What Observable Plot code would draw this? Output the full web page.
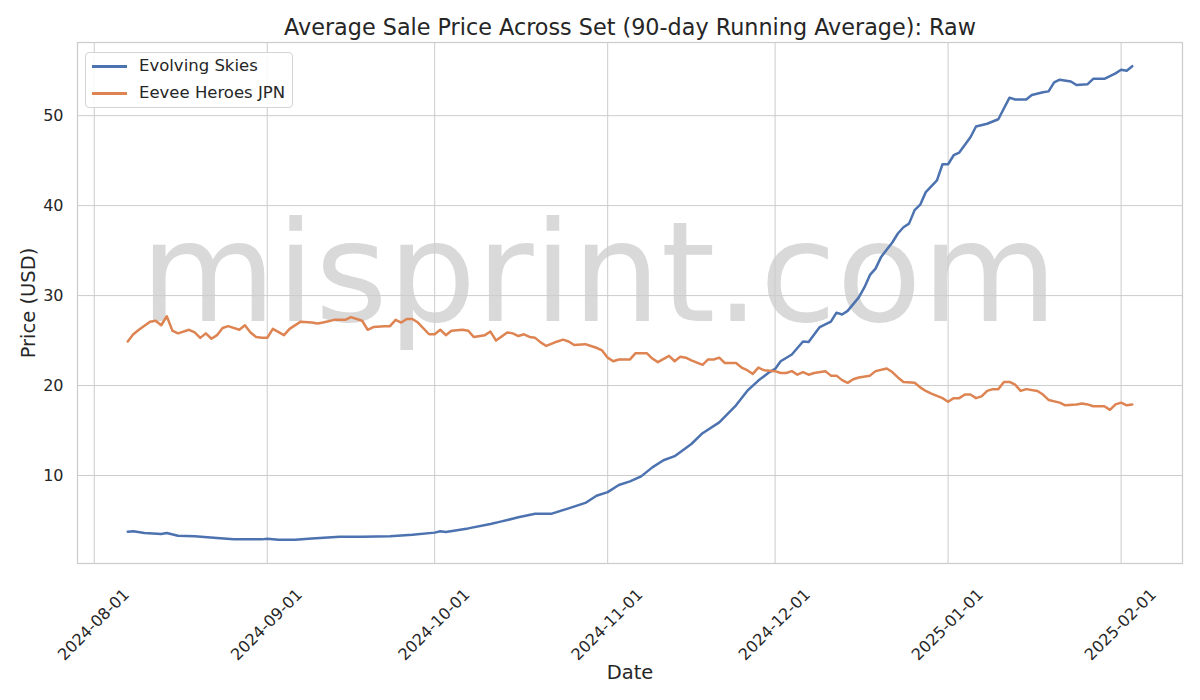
<!DOCTYPE html>
<html>
<head>
<meta charset="utf-8">
<script src="https://cdn.jsdelivr.net/npm/d3@7"></script>
<script src="https://cdn.jsdelivr.net/npm/@observablehq/plot@0.6"></script>
<style>
  body { margin: 0; background: #fff; font-family: "DejaVu Sans", sans-serif; }
  #wrap { position: relative; width: 1200px; height: 700px; overflow: hidden; }
  #legend { position: absolute; left: 85px; top: 52px; width: 208px; height: 56px;
    border: 1px solid #d4d4d4; border-radius: 4px; background: rgba(255,255,255,0.85);
    box-sizing: border-box; }
  .row { position: absolute; left: 0; height: 20px; width: 100%; }
  .sw { position: absolute; left: 6px; top: 9px; width: 35px; height: 2.6px; }
  .lb { position: absolute; left: 53px; top: 0; font-size: 16.5px; line-height: 20px; color: #262626; white-space: nowrap; }
</style>
</head>
<body>
<div id="wrap"></div>
<script>
// ---- Data ----
const titleText = "Average Sale Price Across Set (90-day Running Average): Raw";
const xLabel = "Date";
const yLabel = "Price (USD)";
const watermark = "misprint.com";
const seriesNames = ["Evolving Skies", "Eevee Heroes JPN"];
const seriesColors = ["#4c72b0", "#dd8452"];

const evolvingDates = [
  "2024-08-07","2024-08-08","2024-08-10","2024-08-13","2024-08-14","2024-08-16","2024-08-19","2024-08-23",
  "2024-08-26","2024-08-31","2024-09-01","2024-09-03","2024-09-06","2024-09-09","2024-09-14","2024-09-18",
  "2024-09-23","2024-09-27","2024-10-01","2024-10-02","2024-10-03","2024-10-07","2024-10-11","2024-10-13",
  "2024-10-16","2024-10-19","2024-10-22","2024-10-25","2024-10-28","2024-10-30","2024-11-01","2024-11-03",
  "2024-11-05","2024-11-07","2024-11-09","2024-11-11","2024-11-13","2024-11-16","2024-11-18","2024-11-21",
  "2024-11-24","2024-11-26","2024-11-28","2024-11-30","2024-12-01","2024-12-02","2024-12-04","2024-12-06",
  "2024-12-07","2024-12-09","2024-12-11","2024-12-12","2024-12-13","2024-12-14","2024-12-16","2024-12-17",
  "2024-12-18","2024-12-19","2024-12-20","2024-12-22","2024-12-23","2024-12-24","2024-12-25","2024-12-26",
  "2024-12-27","2024-12-28","2024-12-30","2024-12-31","2025-01-01","2025-01-02","2025-01-03","2025-01-05",
  "2025-01-06","2025-01-08","2025-01-10","2025-01-12","2025-01-13","2025-01-15","2025-01-16","2025-01-18",
  "2025-01-19","2025-01-20","2025-01-21","2025-01-23","2025-01-24","2025-01-26","2025-01-27","2025-01-29",
  "2025-01-31","2025-02-01","2025-02-02","2025-02-03"
];
const evolvingValues = [
  3.75,3.8,3.6,3.5,3.6,3.3,3.25,3.05,
  2.9,2.9,2.98,2.87,2.85,3.0,3.2,3.2,
  3.25,3.42,3.65,3.8,3.72,4.12,4.6,4.9,
  5.35,5.74,5.76,6.35,6.95,7.75,8.15,8.95,
  9.35,9.9,10.9,11.7,12.15,13.5,14.7,15.9,
  17.8,19.4,20.55,21.5,21.85,22.7,23.45,24.9,
  24.85,26.5,27.1,28.1,27.9,28.3,29.8,30.9,
  32.3,33.0,34.3,35.9,36.9,37.6,38.0,39.5,
  40.1,41.5,42.8,44.6,44.6,45.6,45.9,47.6,
  48.8,49.1,49.6,52.0,51.8,51.8,52.3,52.6,
  52.7,53.7,54.0,53.8,53.4,53.5,54.1,54.1,
  54.7,55.1,55.0,55.5
];

const eeveeDates = [
  "2024-08-07","2024-08-08","2024-08-09","2024-08-11","2024-08-12","2024-08-13","2024-08-14","2024-08-15",
  "2024-08-16","2024-08-18","2024-08-19","2024-08-20","2024-08-21","2024-08-22","2024-08-23","2024-08-24",
  "2024-08-25","2024-08-27","2024-08-28","2024-08-29","2024-08-30","2024-08-31","2024-09-01","2024-09-02",
  "2024-09-04","2024-09-05","2024-09-07","2024-09-09","2024-09-10","2024-09-11","2024-09-13","2024-09-15",
  "2024-09-16","2024-09-18","2024-09-19","2024-09-20","2024-09-22","2024-09-23","2024-09-24","2024-09-25",
  "2024-09-26","2024-09-27","2024-09-28","2024-09-30","2024-10-01","2024-10-02","2024-10-03","2024-10-04",
  "2024-10-06","2024-10-07","2024-10-08","2024-10-10","2024-10-11","2024-10-12","2024-10-14","2024-10-15",
  "2024-10-16","2024-10-17","2024-10-18","2024-10-19","2024-10-20","2024-10-21","2024-10-23","2024-10-24",
  "2024-10-25","2024-10-26","2024-10-28","2024-10-29","2024-10-30","2024-10-31","2024-11-01","2024-11-02",
  "2024-11-03","2024-11-05","2024-11-06","2024-11-08","2024-11-09","2024-11-10","2024-11-12","2024-11-13",
  "2024-11-14","2024-11-15","2024-11-16","2024-11-18","2024-11-19","2024-11-20","2024-11-21","2024-11-22",
  "2024-11-24","2024-11-25","2024-11-26","2024-11-27","2024-11-28","2024-11-29","2024-12-01","2024-12-02",
  "2024-12-03","2024-12-04","2024-12-05","2024-12-06","2024-12-07","2024-12-08","2024-12-10","2024-12-11",
  "2024-12-12","2024-12-13","2024-12-14","2024-12-15","2024-12-16","2024-12-18","2024-12-19","2024-12-21",
  "2024-12-22","2024-12-23","2024-12-24","2024-12-26","2024-12-27","2024-12-28","2024-12-29","2024-12-31",
  "2025-01-01","2025-01-02","2025-01-03","2025-01-04","2025-01-05","2025-01-06","2025-01-07","2025-01-08",
  "2025-01-09","2025-01-10","2025-01-11","2025-01-12","2025-01-13","2025-01-14","2025-01-15","2025-01-17",
  "2025-01-18","2025-01-19","2025-01-21","2025-01-22","2025-01-24","2025-01-25","2025-01-26","2025-01-27",
  "2025-01-29","2025-01-30","2025-01-31","2025-02-01","2025-02-02","2025-02-03"
];
const eeveeValues = [
  24.9,25.7,26.2,27.1,27.2,26.7,27.7,26.1,
  25.8,26.2,25.9,25.3,25.8,25.2,25.6,26.4,
  26.6,26.2,26.7,25.9,25.4,25.3,25.3,26.3,
  25.6,26.3,27.1,27.0,26.9,27.0,27.3,27.3,
  27.6,27.2,26.2,26.5,26.6,26.6,27.3,27.0,
  27.4,27.4,27.0,25.7,25.7,26.2,25.6,26.1,
  26.2,26.1,25.4,25.6,26.0,25.0,25.9,25.8,
  25.5,25.7,25.4,25.3,24.8,24.4,24.9,25.1,
  24.9,24.5,24.6,24.4,24.2,23.9,23.1,22.7,
  22.9,22.9,23.6,23.6,23.0,22.6,23.3,22.7,
  23.2,23.1,22.8,22.3,22.9,22.9,23.1,22.5,
  22.5,22.0,21.7,21.3,22.0,21.7,21.6,21.4,
  21.4,21.6,21.2,21.5,21.2,21.4,21.6,21.1,
  21.1,20.6,20.3,20.7,20.9,21.1,21.6,21.9,
  21.5,20.9,20.4,20.3,19.8,19.4,19.1,18.6,
  18.2,18.6,18.6,19.0,19.0,18.6,18.8,19.4,
  19.6,19.6,20.4,20.4,20.1,19.4,19.6,19.4,
  19.0,18.4,18.1,17.8,17.9,18.0,17.9,17.7,
  17.7,17.3,17.9,18.1,17.8,17.9
];

const xTickLabels = ["2024-08-01","2024-09-01","2024-10-01","2024-11-01","2024-12-01","2025-01-01","2025-02-01"];
const yTickValues = [10, 20, 30, 40, 50];

// ---- Build table ----
const parse = d3.utcParse("%Y-%m-%d");
const fmt = d3.utcFormat("%Y-%m-%d");
const seriesDates = [evolvingDates, eeveeDates];
const seriesValues = [evolvingValues, eeveeValues];
const rows = [];
seriesNames.forEach((name, i) => {
  seriesDates[i].forEach((d, j) => rows.push({date: parse(d), price: seriesValues[i][j], series: name}));
});
const xTicks = xTickLabels.map(parse);

// matplotlib-style 5% margins
const [t0, t1] = d3.extent(rows, d => +d.date);
const [v0, v1] = d3.extent(rows, d => d.price);
const xm = (t1 - t0) * 0.05, ym = (v1 - v0) * 0.05;

const grid = {stroke: "#cccccc", strokeOpacity: 1, strokeWidth: 1};

const chart = Plot.plot({
  width: 1200,
  height: 700,
  marginLeft: 77,
  marginRight: 18,
  marginTop: 42,
  marginBottom: 137,
  style: {fontFamily: "DejaVu Sans, sans-serif", fontSize: "16px", color: "#262626", background: "#fff"},
  x: {type: "utc", domain: [new Date(t0 - xm), new Date(t1 + xm)], axis: null},
  y: {domain: [v0 - ym, v1 + ym]},
  color: {domain: seriesNames, range: seriesColors},
  marks: [
    Plot.text([watermark], {text: d => d, frameAnchor: "middle", lineAnchor: "middle", dx: -31, dy: -27, fontSize: 139.5, fill: "#d9d9d9"}),
    Plot.gridY(yTickValues, grid),
    Plot.gridX(xTicks, grid),
    Plot.frame({stroke: "#cccccc", strokeWidth: 1.25}),
    Plot.line(rows, {x: "date", y: "price", z: "series", stroke: "series", strokeWidth: 2.5, strokeLinejoin: "round"}),
    Plot.axisY(yTickValues, {tickSize: 0, tickPadding: 14, fontSize: 16, label: null}),
    Plot.text(xTicks, {x: d => d, frameAnchor: "bottom", lineAnchor: "bottom", text: d => fmt(d), rotate: -45, textAnchor: "end",
      dx: 36, dy: 32, fontSize: 16, fill: "#262626"}),
    Plot.text([titleText], {text: d => d, frameAnchor: "top", lineAnchor: "middle", dy: -15, fontSize: 22.3, fill: "#262626"}),
    Plot.text([xLabel], {text: d => d, frameAnchor: "bottom", lineAnchor: "middle", dy: 109, fontSize: 19.5, fill: "#262626"}),
    Plot.text([yLabel], {text: d => d, frameAnchor: "left", lineAnchor: "middle", textAnchor: "middle", dx: -49, rotate: -90, fontSize: 19.5, fill: "#262626"})
  ]
});

const wrap = document.getElementById("wrap");
wrap.appendChild(chart);

// Legend
const legend = document.createElement("div");
legend.id = "legend";
seriesNames.forEach((name, i) => {
  const row = document.createElement("div");
  row.className = "row";
  row.style.top = (3 + i * 27) + "px";
  const sw = document.createElement("div");
  sw.className = "sw";
  sw.style.background = seriesColors[i];
  const lb = document.createElement("div");
  lb.className = "lb";
  lb.textContent = name;
  row.appendChild(sw);
  row.appendChild(lb);
  legend.appendChild(row);
});
wrap.appendChild(legend);
</script>
</body>
</html>
